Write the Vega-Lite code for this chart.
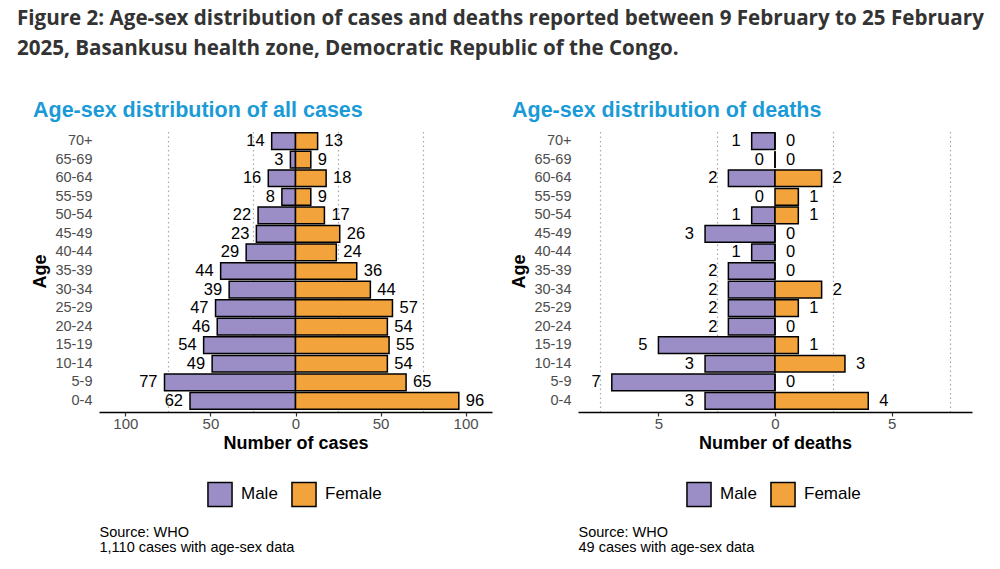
{
  "$schema": "https://vega.github.io/schema/vega-lite/v6.json",
  "background": "white",
  "padding": {"left": 16, "top": 8, "right": 5, "bottom": 5},
  "title": {
    "text": ["Figure 2: Age-sex distribution of cases and deaths reported between 9 February to 25 February", "2025, Basankusu health zone, Democratic Republic of the Congo."],
    "anchor": "start",
    "frame": "bounds",
    "dx": -15,
    "font": "Open Sans",
    "fontSize": 20.6,
    "fontWeight": 700,
    "color": "#333333",
    "lineHeight": 30,
    "offset": 40
  },
  "config": {
    "view": {"stroke": null},
    "font": "Liberation Sans",
    "text": {"font": "Liberation Sans"}
  },
  "resolve": {"scale": {"color": "independent", "x": "independent", "y": "independent"}, "legend": {"color": "independent"}},
  "spacing": 18,
  "hconcat": [
    {
      "spacing": 72,
      "vconcat": [
        {
          "width": 393,
          "height": 282,
          "title": {"text": "Age-sex distribution of all cases", "anchor": "start", "frame": "group", "dx": -66, "color": "#1a9bd7", "fontSize": 21.5, "fontWeight": "bold", "font": "Liberation Sans", "offset": 9},
          "data": {"values": [
            {"age": "70+", "sex": "Male", "n": 14}, {"age": "70+", "sex": "Female", "n": 13},
            {"age": "65-69", "sex": "Male", "n": 3}, {"age": "65-69", "sex": "Female", "n": 9},
            {"age": "60-64", "sex": "Male", "n": 16}, {"age": "60-64", "sex": "Female", "n": 18},
            {"age": "55-59", "sex": "Male", "n": 8}, {"age": "55-59", "sex": "Female", "n": 9},
            {"age": "50-54", "sex": "Male", "n": 22}, {"age": "50-54", "sex": "Female", "n": 17},
            {"age": "45-49", "sex": "Male", "n": 23}, {"age": "45-49", "sex": "Female", "n": 26},
            {"age": "40-44", "sex": "Male", "n": 29}, {"age": "40-44", "sex": "Female", "n": 24},
            {"age": "35-39", "sex": "Male", "n": 44}, {"age": "35-39", "sex": "Female", "n": 36},
            {"age": "30-34", "sex": "Male", "n": 39}, {"age": "30-34", "sex": "Female", "n": 44},
            {"age": "25-29", "sex": "Male", "n": 47}, {"age": "25-29", "sex": "Female", "n": 57},
            {"age": "20-24", "sex": "Male", "n": 46}, {"age": "20-24", "sex": "Female", "n": 54},
            {"age": "15-19", "sex": "Male", "n": 54}, {"age": "15-19", "sex": "Female", "n": 55},
            {"age": "10-14", "sex": "Male", "n": 49}, {"age": "10-14", "sex": "Female", "n": 54},
            {"age": "5-9", "sex": "Male", "n": 77}, {"age": "5-9", "sex": "Female", "n": 65},
            {"age": "0-4", "sex": "Male", "n": 62}, {"age": "0-4", "sex": "Female", "n": 96}
          ]},
          "transform": [{"calculate": "datum.sex === 'Male' ? -datum.n : datum.n", "as": "x"}],
          "encoding": {
            "y": {
              "field": "age", "type": "ordinal",
              "sort": ["70+", "65-69", "60-64", "55-59", "50-54", "45-49", "40-44", "35-39", "30-34", "25-29", "20-24", "15-19", "10-14", "5-9", "0-4"],
              "scale": {"paddingInner": 0.1, "paddingOuter": 0.15},
              "axis": {"title": "Age", "titleFontSize": 18, "titleFontWeight": "bold", "titleColor": "black", "titlePadding": 5, "labelFontSize": 14.5, "labelColor": "#4d4d4d", "labelPadding": 7, "ticks": false, "tickSize": 0, "domain": false, "grid": false}
            },
            "x": {
              "field": "x", "type": "quantitative",
              "scale": {"domain": [-115.5, 115.5], "nice": false},
              "axis": {
                "values": [-100, -75, -50, -25, 0, 25, 50, 75, 100],
                "labelExpr": "abs(datum.value) % 50 === 0 ? format(abs(datum.value), 'd') : ''",
                "labelOverlap": false, "labelFlush": false,
                "grid": true, "gridColor": "#a8a8a8", "gridDash": [1.5, 3], "gridWidth": 1.2,
                "gridOpacity": {"condition": {"test": "abs(datum.value) % 50 === 25", "value": 1}, "value": 0},
                "tickOpacity": {"condition": {"test": "abs(datum.value) % 50 === 0", "value": 1}, "value": 0},
                "domainColor": "black", "domainWidth": 1.5, "tickColor": "#333333", "tickSize": 4, "tickWidth": 1.2,
                "labelColor": "#4d4d4d", "labelFontSize": 15, "labelPadding": 0,
                "title": "Number of cases", "titleFontSize": 18, "titleFontWeight": "bold", "titleColor": "black", "titlePadding": 3
              }
            }
          },
          "layer": [
            {
              "mark": {"type": "bar", "stroke": "black", "strokeWidth": 1.5},
              "encoding": {
                "color": {
                  "field": "sex", "type": "nominal",
                  "scale": {"domain": ["Male", "Female"], "range": ["#9b8ec7", "#f2a33c"]},
                  "legend": {"title": null, "orient": "none", "direction": "horizontal", "legendX": 108, "legendY": 351, "symbolType": "square", "symbolSize": 580, "symbolStrokeColor": "black", "symbolStrokeWidth": 1.5, "symbolOpacity": 1, "labelFontSize": 17, "labelColor": "black", "labelOffset": 8, "columnPadding": 10, "padding": 0}
                }
              }
            },
            {
              "transform": [{"filter": "datum.sex === 'Male'"}],
              "mark": {"type": "text", "align": "right", "baseline": "middle", "dx": -7, "fontSize": 16.5, "color": "black"},
              "encoding": {"text": {"field": "n", "type": "quantitative"}}
            },
            {
              "transform": [{"filter": "datum.sex === 'Female'"}],
              "mark": {"type": "text", "align": "left", "baseline": "middle", "dx": 7, "fontSize": 16.5, "color": "black"},
              "encoding": {"text": {"field": "n", "type": "quantitative"}}
            }
          ]
        },
        {
          "width": 1,
          "height": 30,
          "data": {"values": [{"i": 1, "line": "Source: WHO"}, {"i": 2, "line": "1,110 cases with age-sex data"}]},
          "mark": {"type": "text", "align": "left", "baseline": "middle", "fontSize": 14.5, "color": "black"},
          "encoding": {
            "y": {"field": "i", "type": "ordinal", "axis": null},
            "text": {"field": "line", "type": "nominal"}
          }
        }
      ]
    },
    {
      "spacing": 72,
      "vconcat": [
        {
          "width": 394,
          "height": 282,
          "title": {"text": "Age-sex distribution of deaths", "anchor": "start", "frame": "group", "dx": -66, "color": "#1a9bd7", "fontSize": 21.5, "fontWeight": "bold", "font": "Liberation Sans", "offset": 9},
          "data": {"values": [
            {"age": "70+", "sex": "Male", "n": 1}, {"age": "70+", "sex": "Female", "n": 0},
            {"age": "65-69", "sex": "Male", "n": 0}, {"age": "65-69", "sex": "Female", "n": 0},
            {"age": "60-64", "sex": "Male", "n": 2}, {"age": "60-64", "sex": "Female", "n": 2},
            {"age": "55-59", "sex": "Male", "n": 0}, {"age": "55-59", "sex": "Female", "n": 1},
            {"age": "50-54", "sex": "Male", "n": 1}, {"age": "50-54", "sex": "Female", "n": 1},
            {"age": "45-49", "sex": "Male", "n": 3}, {"age": "45-49", "sex": "Female", "n": 0},
            {"age": "40-44", "sex": "Male", "n": 1}, {"age": "40-44", "sex": "Female", "n": 0},
            {"age": "35-39", "sex": "Male", "n": 2}, {"age": "35-39", "sex": "Female", "n": 0},
            {"age": "30-34", "sex": "Male", "n": 2}, {"age": "30-34", "sex": "Female", "n": 2},
            {"age": "25-29", "sex": "Male", "n": 2}, {"age": "25-29", "sex": "Female", "n": 1},
            {"age": "20-24", "sex": "Male", "n": 2}, {"age": "20-24", "sex": "Female", "n": 0},
            {"age": "15-19", "sex": "Male", "n": 5}, {"age": "15-19", "sex": "Female", "n": 1},
            {"age": "10-14", "sex": "Male", "n": 3}, {"age": "10-14", "sex": "Female", "n": 3},
            {"age": "5-9", "sex": "Male", "n": 7}, {"age": "5-9", "sex": "Female", "n": 0},
            {"age": "0-4", "sex": "Male", "n": 3}, {"age": "0-4", "sex": "Female", "n": 4}
          ]},
          "transform": [{"calculate": "datum.sex === 'Male' ? -datum.n : datum.n", "as": "x"}],
          "encoding": {
            "y": {
              "field": "age", "type": "ordinal",
              "sort": ["70+", "65-69", "60-64", "55-59", "50-54", "45-49", "40-44", "35-39", "30-34", "25-29", "20-24", "15-19", "10-14", "5-9", "0-4"],
              "scale": {"paddingInner": 0.1, "paddingOuter": 0.15},
              "axis": {"title": "Age", "titleFontSize": 18, "titleFontWeight": "bold", "titleColor": "black", "titlePadding": 5, "labelFontSize": 14.5, "labelColor": "#4d4d4d", "labelPadding": 7, "ticks": false, "tickSize": 0, "domain": false, "grid": false}
            },
            "x": {
              "field": "x", "type": "quantitative",
              "scale": {"domain": [-8.45, 8.45], "nice": false},
              "axis": {
                "values": [-7.5, -5, -2.5, 0, 2.5, 5, 7.5],
                "labelExpr": "abs(datum.value) % 5 === 0 ? format(abs(datum.value), 'd') : ''",
                "labelOverlap": false, "labelFlush": false,
                "grid": true, "gridColor": "#a8a8a8", "gridDash": [1.5, 3], "gridWidth": 1.2,
                "gridOpacity": {"condition": {"test": "abs(datum.value) % 5 === 2.5", "value": 1}, "value": 0},
                "tickOpacity": {"condition": {"test": "abs(datum.value) % 5 === 0", "value": 1}, "value": 0},
                "domainColor": "black", "domainWidth": 1.5, "tickColor": "#333333", "tickSize": 4, "tickWidth": 1.2,
                "labelColor": "#4d4d4d", "labelFontSize": 15, "labelPadding": 0,
                "title": "Number of deaths", "titleFontSize": 18, "titleFontWeight": "bold", "titleColor": "black", "titlePadding": 3
              }
            }
          },
          "layer": [
            {
              "mark": {"type": "bar", "stroke": "black", "strokeWidth": 1.5},
              "encoding": {
                "color": {
                  "field": "sex", "type": "nominal",
                  "scale": {"domain": ["Male", "Female"], "range": ["#9b8ec7", "#f2a33c"]},
                  "legend": {"title": null, "orient": "none", "direction": "horizontal", "legendX": 108, "legendY": 351, "symbolType": "square", "symbolSize": 580, "symbolStrokeColor": "black", "symbolStrokeWidth": 1.5, "symbolOpacity": 1, "labelFontSize": 17, "labelColor": "black", "labelOffset": 8, "columnPadding": 10, "padding": 0}
                }
              }
            },
            {
              "transform": [{"filter": "datum.sex === 'Male'"}],
              "mark": {"type": "text", "align": "right", "baseline": "middle", "dx": -11, "fontSize": 16.5, "color": "black"},
              "encoding": {"text": {"field": "n", "type": "quantitative"}}
            },
            {
              "transform": [{"filter": "datum.sex === 'Female'"}],
              "mark": {"type": "text", "align": "left", "baseline": "middle", "dx": 11, "fontSize": 16.5, "color": "black"},
              "encoding": {"text": {"field": "n", "type": "quantitative"}}
            }
          ]
        },
        {
          "width": 1,
          "height": 30,
          "data": {"values": [{"i": 1, "line": "Source: WHO"}, {"i": 2, "line": "49 cases with age-sex data"}]},
          "mark": {"type": "text", "align": "left", "baseline": "middle", "fontSize": 14.5, "color": "black"},
          "encoding": {
            "y": {"field": "i", "type": "ordinal", "axis": null},
            "text": {"field": "line", "type": "nominal"}
          }
        }
      ]
    }
  ]
}
